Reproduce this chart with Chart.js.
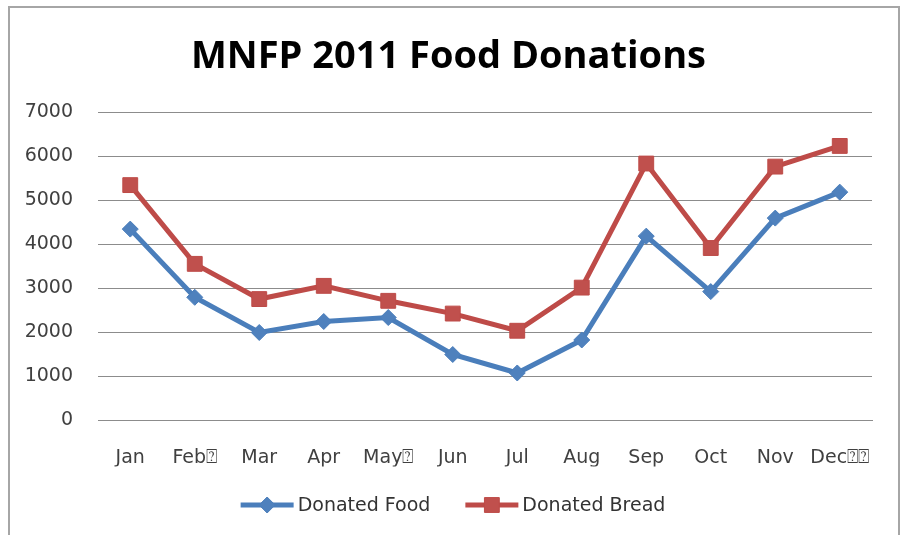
<!DOCTYPE html>
<html><head><meta charset="utf-8">
<script src="https://cdn.jsdelivr.net/npm/chart.js@4.4.1/dist/chart.umd.min.js"></script>
<style>
html,body{margin:0;padding:0;background:#fff;overflow:hidden;}
#frame{position:absolute;left:8px;top:6px;width:888px;height:540px;border:2px solid #a6a6a6;border-bottom:none;background:#fff;}
canvas{display:block}
</style></head><body>
<div id="frame"><canvas id="c" width="888" height="527"></canvas></div>
<script>
const chartTitle = 'MNFP 2011 Food Donations';
const months = ['Jan','Feb\u2370','Mar','Apr','May\u2370','Jun','Jul','Aug','Sep','Oct','Nov','Dec\u2370\u2370'];
const donatedFood  = [4350, 2800, 2000, 2250, 2340, 1500, 1080, 1830, 4190, 2930, 4600, 5190];
const donatedBread = [5350, 3560, 2760, 3060, 2720, 2430, 2040, 3020, 5840, 3920, 5770, 6240];
const yMin = 0, yMax = 7000, yStep = 1000;

const TITLEFONT = '"Open Sans", sans-serif';
const TICKFONT = '"DejaVu Sans", sans-serif';

const legendPlugin = {
  id: 'lineLegend',
  afterDraw(chart) {
    const ctx = chart.ctx;
    const y = 497;
    const lineW = 53, gapText = 4, gapItem = 35;
    ctx.save();
    ctx.font = '19px ' + TICKFONT;
    const items = chart.data.datasets.map(ds => ({ds, w: ctx.measureText(ds.label).width}));
    const total = items.reduce((s, it) => s + lineW + gapText + it.w, 0) + gapItem * (items.length - 1);
    let x = 443 - total / 2;
    items.forEach(it => {
      const ds = it.ds;
      ctx.strokeStyle = ds.borderColor; ctx.lineWidth = ds.borderWidth;
      ctx.beginPath(); ctx.moveTo(x, y); ctx.lineTo(x + lineW, y); ctx.stroke();
      ctx.fillStyle = ds.pointBackgroundColor; ctx.strokeStyle = ds.pointBorderColor; ctx.lineWidth = 1;
      Chart.helpers.drawPoint(ctx, {pointStyle: ds.pointStyle, radius: ds.pointRadius, borderWidth: 1}, x + lineW / 2, y);
      ctx.fillStyle = '#333'; ctx.textBaseline = 'middle'; ctx.textAlign = 'left';
      ctx.fillText(ds.label, x + lineW + gapText, y + 1);
      x += lineW + gapText + it.w + gapItem;
    });
    ctx.restore();
  }
};

new Chart(document.getElementById('c'), {
  type: 'line',
  data: {
    labels: months,
    datasets: [
      {label: 'Donated Food', data: donatedFood, borderColor: '#4A7EBB', backgroundColor: '#4F81BD',
       pointBackgroundColor: '#4F81BD', pointBorderColor: '#4A7EBB', borderWidth: 5,
       pointStyle: 'rectRot', pointRadius: 8, pointBorderWidth: 1, tension: 0},
      {label: 'Donated Bread', data: donatedBread, borderColor: '#BE4B48', backgroundColor: '#C0504D',
       pointBackgroundColor: '#C0504D', pointBorderColor: '#BE4B48', borderWidth: 5,
       pointStyle: 'rect', pointRadius: 10.5, pointBorderWidth: 1, tension: 0}
    ]
  },
  options: {
    responsive: false, animation: false, devicePixelRatio: 1,
    layout: {padding: {left: 15, right: 26, top: 0, bottom: 68.5}},
    plugins: {
      legend: {display: false},
      tooltip: {enabled: false},
      title: {display: true, text: chartTitle, color: '#000',
              font: {family: TITLEFONT, size: 38, weight: 'bold'}, padding: {top: 26.5, bottom: 32.4}}
    },
    scales: {
      x: {offset: true,
          grid: {display: false, drawTicks: false},
          border: {display: true, color: '#8c8c8c', width: 1},
          ticks: {color: '#404040', padding: 26, font: {family: TICKFONT, size: 19}, maxRotation: 0, autoSkip: false},
          afterFit(scale) { scale.height = 46; }},
      y: {min: yMin, max: yMax,
          grid: {color: '#8c8c8c', lineWidth: 1, drawTicks: false},
          border: {display: false},
          ticks: {stepSize: yStep, color: '#404040', padding: 25, font: {family: TICKFONT, size: 19},
                  callback: v => String(v)},
          afterFit(scale) { scale.width = 73; }}
    }
  },
  plugins: [legendPlugin]
});
</script>
</body></html>
